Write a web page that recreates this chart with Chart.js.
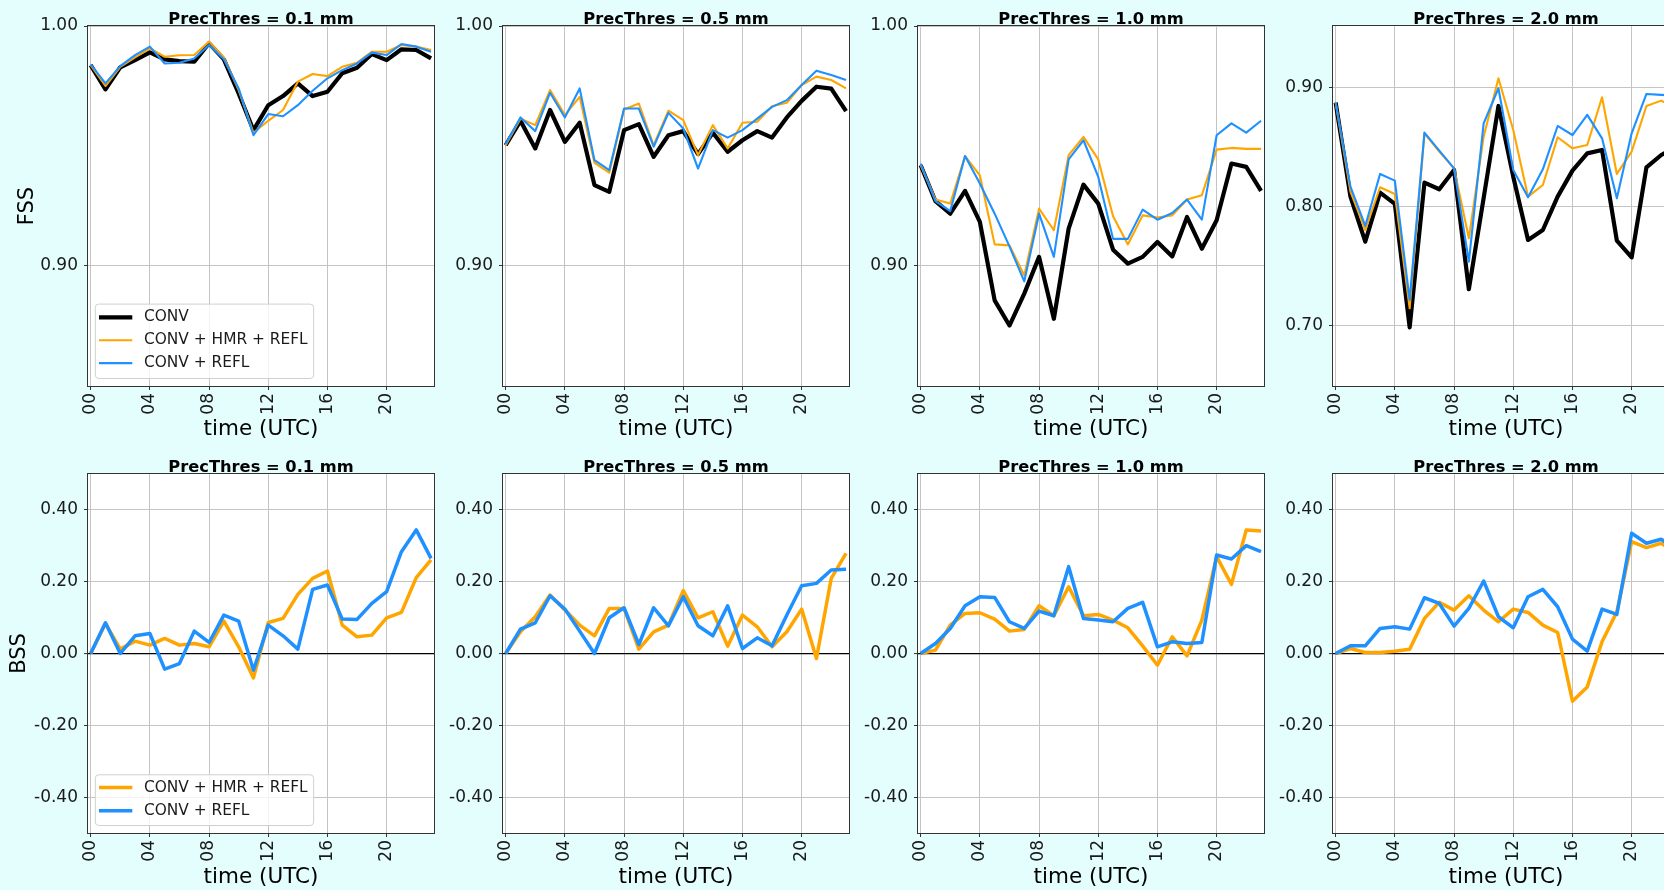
<!DOCTYPE html>
<html>
<head>
<meta charset="utf-8">
<title>FSS and BSS by precipitation threshold</title>
<script src="https://cdn.jsdelivr.net/npm/chart.js@4.4.1/dist/chart.umd.min.js"></script>
<style>
  html, body { margin: 0; padding: 0; width: 1664px; height: 890px; overflow: hidden; background: #e4fdfd; }
  canvas { position: absolute; }
</style>
</head>
<body>
<script>
// ---- data -------------------------------------------------------------
const hours = [0,1,2,3,4,5,6,7,8,9,10,11,12,13,14,15,16,17,18,19,20,21,22,23];
const hourTicks = [0, 4, 8, 12, 16, 20];
const thresholds = ['0.1', '0.5', '1.0', '2.0'];
const seriesNames = ['CONV', 'CONV + HMR + REFL', 'CONV + REFL'];

const fssTicksFine = [0.90, 1.00];
const fssTicksWide = [0.70, 0.80, 0.90];
const bssTicks = [-0.40, -0.20, 0.00, 0.20, 0.40];

// Fractions Skill Score
const fssConv01 = [0.9837,0.9736,0.9828,0.9858,0.9890,0.9861,0.9854,0.9851,0.9928,0.9861,0.9719,0.9566,0.9670,0.9708,0.9761,0.9708,0.9726,0.9803,0.9826,0.9883,0.9858,0.9903,0.9900,0.9865];
const fssHmr01  = [0.9837,0.9750,0.9830,0.9869,0.9907,0.9872,0.9878,0.9879,0.9935,0.9869,0.9733,0.9555,0.9605,0.9650,0.9768,0.9800,0.9791,0.9830,0.9847,0.9893,0.9893,0.9921,0.9914,0.9900];
const fssRefl01 = [0.9840,0.9761,0.9833,0.9879,0.9914,0.9844,0.9847,0.9865,0.9921,0.9861,0.9740,0.9545,0.9633,0.9624,0.9670,0.9730,0.9782,0.9816,0.9844,0.9889,0.9879,0.9925,0.9914,0.9893];

const fssConv05 = [0.9503,0.9605,0.9490,0.9650,0.9517,0.9597,0.9337,0.9309,0.9566,0.9591,0.9455,0.9545,0.9562,0.9466,0.9555,0.9476,0.9524,0.9562,0.9535,0.9619,0.9688,0.9747,0.9739,0.9645];
const fssHmr05  = [0.9503,0.9614,0.9587,0.9733,0.9629,0.9705,0.9430,0.9389,0.9652,0.9677,0.9503,0.9647,0.9608,0.9462,0.9587,0.9490,0.9597,0.9601,0.9666,0.9680,0.9754,0.9789,0.9775,0.9740];
const fssRefl05 = [0.9508,0.9619,0.9562,0.9722,0.9619,0.9740,0.9441,0.9399,0.9656,0.9656,0.9497,0.9638,0.9573,0.9406,0.9566,0.9535,0.9566,0.9614,0.9663,0.9691,0.9754,0.9814,0.9796,0.9775];

const fssConv10 = [0.9420,0.9270,0.9218,0.9313,0.9184,0.8857,0.8752,0.8885,0.9038,0.8780,0.9156,0.9339,0.9260,0.9068,0.9010,0.9038,0.9100,0.9040,0.9204,0.9072,0.9191,0.9427,0.9413,0.9313];
const fssHmr10  = [0.9420,0.9277,0.9260,0.9458,0.9378,0.9090,0.9086,0.8961,0.9239,0.9149,0.9462,0.9538,0.9444,0.9207,0.9090,0.9211,0.9202,0.9211,0.9277,0.9295,0.9485,0.9492,0.9488,0.9488];
const fssRefl10 = [0.9427,0.9270,0.9229,0.9458,0.9344,0.9218,0.9082,0.8936,0.9218,0.9038,0.9444,0.9524,0.9371,0.9113,0.9113,0.9235,0.9193,0.9221,0.9277,0.9193,0.9545,0.9594,0.9556,0.9605];

const fssConv20 = [0.8871,0.8081,0.7703,0.8115,0.8020,0.6983,0.8199,0.8143,0.8305,0.7303,0.8070,0.8843,0.8249,0.7717,0.7801,0.8081,0.8300,0.8445,0.8473,0.7711,0.7571,0.8328,0.8431,0.8500];
const fssHmr20  = [0.8871,0.8123,0.7801,0.8160,0.8104,0.7143,0.8613,0.8459,0.8319,0.7731,0.8585,0.9076,0.8641,0.8081,0.8179,0.8580,0.8487,0.8515,0.8916,0.8272,0.8459,0.8843,0.8888,0.8820];
const fssRefl20 = [0.8871,0.8165,0.7835,0.8272,0.8216,0.7213,0.8619,0.8468,0.8319,0.7535,0.8697,0.8992,0.8305,0.8076,0.8311,0.8675,0.8599,0.8768,0.8571,0.8067,0.8613,0.8944,0.8936,0.8930];

// Brier Skill Score
const bssHmr01  = [0,0.0837,0.0121,0.0344,0.0233,0.0419,0.0233,0.0279,0.0186,0.0902,0.0186,-0.0679,0.0865,0.0977,0.1647,0.2093,0.2298,0.0791,0.0465,0.0512,0.0995,0.1144,0.2112,0.2605];
const bssRefl01 = [0,0.0856,0,0.0493,0.0558,-0.0437,-0.0279,0.0623,0.0307,0.1070,0.0902,-0.0465,0.0791,0.0493,0.0121,0.1786,0.1907,0.0958,0.0949,0.1395,0.1721,0.2837,0.3442,0.2651];

const bssHmr05  = [0,0.0605,0.1023,0.1628,0.1209,0.0791,0.0493,0.1256,0.1256,0.0121,0.0605,0.0791,0.1749,0.0995,0.1163,0.0205,0.1070,0.0744,0.0186,0.0605,0.1237,-0.0140,0.2093,0.2790];
const bssRefl05 = [0,0.0679,0.0856,0.1609,0.1237,0.0623,0.0000,0.0995,0.1274,0.0251,0.1274,0.0772,0.1581,0.0772,0.0493,0.1330,0.0140,0.0437,0.0214,0.1070,0.1888,0.1953,0.2326,0.2344];

const bssHmr10  = [0,0.0093,0.0791,0.1116,0.1135,0.0958,0.0623,0.0670,0.1330,0.1051,0.1860,0.1051,0.1088,0.0930,0.0716,0.0214,-0.0326,0.0465,-0.0065,0.0930,0.2698,0.1926,0.3442,0.3414];
const bssRefl10 = [0,0.0279,0.0698,0.1330,0.1581,0.1563,0.0884,0.0698,0.1181,0.1051,0.2419,0.0977,0.0930,0.0884,0.1256,0.1423,0.0186,0.0326,0.0279,0.0307,0.2744,0.2633,0.3005,0.2837];

const bssHmr20  = [0,0.0140,0.0028,0.0028,0.0065,0.0121,0.0977,0.1423,0.1209,0.1609,0.1209,0.0884,0.1237,0.1144,0.0791,0.0586,-0.1330,-0.0930,0.0326,0.1160,0.3116,0.2949,0.3070,0.2800];
const bssRefl20 = [0,0.0214,0.0214,0.0698,0.0744,0.0679,0.1553,0.1395,0.0763,0.1256,0.2019,0.1023,0.0716,0.1581,0.1786,0.1302,0.0400,0.0065,0.1237,0.1088,0.3349,0.3070,0.3181,0.2900];

// ---- styling & layout ---------------------------------------------------
const FONT = "'DejaVu Sans', 'Liberation Sans', sans-serif";
const COLORS = { conv: '#000000', hmr: '#ffa500', refl: '#1e90ff' };
const GRID = '#c4c4c4';
const SPINE = '#333333';
const TEXT = '#1a1a1a';

const PLOT_W = 346;
const Y_AXIS_W = 88;
const X_AXIS_H = 60;
const TITLE_H = 26;
const COL_LEFT = [88, 503, 918, 1333];
const ROW = [
  { canvasTop: 0,   plotH: 360, xTitlePadBottom: 4,   yTitlePadTop: 14.6, legendRowGap: 22.9, legendTopPad: 13.2, legendBottomPad: 15.4 },
  { canvasTop: 448, plotH: 359, xTitlePadBottom: 2.4, yTitlePadTop: 7.3,  legendRowGap: 23.3, legendTopPad: 12.7, legendBottomPad: 14.7 }
];

// white axes face, dark frame and an in-plot legend box
const panelDecor = {
  id: 'panelDecor',
  beforeDraw(chart) {
    const { ctx, chartArea: a } = chart;
    ctx.save();
    ctx.fillStyle = '#ffffff';
    ctx.fillRect(a.left, a.top, a.right - a.left, a.bottom - a.top);
    ctx.restore();
  },
  afterDraw(chart, args, opts) {
    const { ctx, chartArea: a } = chart;
    ctx.save();
    ctx.strokeStyle = SPINE;
    ctx.lineWidth = 1;
    ctx.strokeRect(a.left - 0.5, a.top - 0.5, a.right - a.left + 1, a.bottom - a.top + 1);

    if (opts.legend) {
      const lg = opts.legend;
      const sets = chart.data.datasets;
      ctx.font = '15.4px ' + FONT;
      let maxW = 0;
      sets.forEach(d => { maxW = Math.max(maxW, ctx.measureText(d.label).width); });
      const boxLeft = a.left + 7.3;
      const textX = a.left + 56;
      const boxRight = textX + maxW + 6;
      const boxBottom = a.bottom - 7.5;
      const lastY = boxBottom - lg.bottomPad;
      const firstY = lastY - lg.rowGap * (sets.length - 1);
      const boxTop = firstY - lg.topPad;
      const r = 3.5;
      ctx.beginPath();
      ctx.moveTo(boxLeft + r, boxTop);
      ctx.arcTo(boxRight, boxTop, boxRight, boxBottom, r);
      ctx.arcTo(boxRight, boxBottom, boxLeft, boxBottom, r);
      ctx.arcTo(boxLeft, boxBottom, boxLeft, boxTop, r);
      ctx.arcTo(boxLeft, boxTop, boxRight, boxTop, r);
      ctx.closePath();
      ctx.fillStyle = 'rgba(255,255,255,0.8)';
      ctx.fill();
      ctx.strokeStyle = '#d0d0d0';
      ctx.lineWidth = 1;
      ctx.stroke();

      sets.forEach((d, i) => {
        const y = firstY + i * lg.rowGap;
        ctx.beginPath();
        ctx.moveTo(a.left + 11, y);
        ctx.lineTo(a.left + 44.3, y);
        ctx.strokeStyle = d.borderColor;
        ctx.lineWidth = d.borderWidth;
        ctx.lineCap = 'butt';
        ctx.stroke();
        ctx.fillStyle = TEXT;
        ctx.textAlign = 'left';
        ctx.textBaseline = 'middle';
        ctx.fillText(d.label, textX, y);
      });
    }
    ctx.restore();
  }
};

function makePanel(opts) {
  const row = ROW[opts.row];
  const left = COL_LEFT[opts.col];
  const canvas = document.createElement('canvas');
  const w = PLOT_W + 2 * Y_AXIS_W;
  const h = TITLE_H + row.plotH + X_AXIS_H;
  canvas.width = w;
  canvas.height = h;
  canvas.style.left = (left - Y_AXIS_W) + 'px';
  canvas.style.top = row.canvasTop + 'px';
  canvas.style.width = w + 'px';
  canvas.style.height = h + 'px';
  document.body.appendChild(canvas);

  const isBss = opts.metric === 'BSS';
  const datasets = opts.series.map(s => ({
    label: s.label,
    data: hours.map((hr, i) => ({ x: hr, y: s.values[i] })),
    borderColor: s.color,
    backgroundColor: s.color,
    borderWidth: s.width,
    order: s.order,
    pointRadius: 0,
    pointHoverRadius: 0,
    tension: 0,
    fill: false,
    borderJoinStyle: 'round',
    clip: 0
  }));

  return new Chart(canvas, {
    type: 'line',
    data: { datasets },
    options: {
      responsive: false,
      animation: false,
      devicePixelRatio: 1,
      events: [],
      layout: { padding: 0 },
      plugins: {
        legend: { display: false },
        tooltip: { enabled: false },
        title: {
          display: true,
          text: 'PrecThres = ' + opts.threshold + ' mm',
          color: '#000000',
          font: { family: FONT, size: 16.3, weight: 'bold', lineHeight: 0.7 },
          padding: { top: 13.8, bottom: 0.79 }
        },
        panelDecor: {
          legend: opts.legend ? { rowGap: row.legendRowGap, topPad: row.legendTopPad, bottomPad: row.legendBottomPad } : null
        }
      },
      scales: {
        x: {
          type: 'linear',
          min: -0.18,
          max: 23.2,
          afterBuildTicks: axis => { axis.ticks = hourTicks.map(v => ({ value: v })); },
          afterFit: axis => { axis.height = X_AXIS_H; },
          border: { display: false },
          grid: { color: GRID, lineWidth: 1, drawTicks: true, tickLength: 4, tickColor: SPINE, tickWidth: 1 },
          ticks: {
            autoSkip: false,
            minRotation: 90,
            maxRotation: 90,
            padding: 3,
            color: TEXT,
            font: { family: FONT, size: 17 },
            callback: v => String(v).padStart(2, '0')
          },
          title: {
            display: true,
            text: 'time (UTC)',
            color: '#000000',
            font: { family: FONT, size: 21.5, lineHeight: 1.2 },
            padding: { top: 0, bottom: row.xTitlePadBottom }
          }
        },
        y: {
          type: 'linear',
          position: 'left',
          min: opts.yMin,
          max: opts.yMax,
          afterBuildTicks: axis => { axis.ticks = opts.yTicks.map(v => ({ value: v })); },
          afterFit: axis => { axis.width = Y_AXIS_W; },
          border: { display: false },
          grid: {
            color: ctx => (isBss && ctx.tick && ctx.tick.value === 0) ? '#000000' : GRID,
            lineWidth: ctx => (isBss && ctx.tick && ctx.tick.value === 0) ? 1.2 : 1,
            drawTicks: true, tickLength: 4, tickColor: SPINE, tickWidth: 1
          },
          ticks: {
            padding: 6,
            color: TEXT,
            font: { family: FONT, size: 17 },
            callback: v => Number(v).toFixed(2)
          },
          title: {
            display: opts.col === 0,
            text: opts.metric,
            color: '#000000',
            font: { family: FONT, size: 21, lineHeight: 1.2 },
            padding: { top: row.yTitlePadTop, bottom: 0 }
          }
        },
        // empty right-hand band so the panel title is centred over the plot
        yPad: {
          type: 'linear',
          position: 'right',
          min: 0,
          max: 1,
          afterFit: axis => { axis.width = Y_AXIS_W; },
          border: { display: false },
          grid: { display: false, drawTicks: false },
          ticks: { display: false }
        }
      }
    },
    plugins: [panelDecor]
  });
}

// ---- panels ---------------------------------------------------------------
const fssByThreshold = [
  [fssConv01, fssHmr01, fssRefl01],
  [fssConv05, fssHmr05, fssRefl05],
  [fssConv10, fssHmr10, fssRefl10],
  [fssConv20, fssHmr20, fssRefl20]
];
const bssByThreshold = [
  [bssHmr01, bssRefl01],
  [bssHmr05, bssRefl05],
  [bssHmr10, bssRefl10],
  [bssHmr20, bssRefl20]
];

thresholds.forEach((thr, col) => {
  const [conv, hmr, refl] = fssByThreshold[col];
  const wide = col === 3;
  makePanel({
    row: 0, col, threshold: thr, metric: 'FSS',
    yMin: wide ? 0.649 : 0.85,
    yMax: wide ? 0.9515 : 1.0,
    yTicks: wide ? fssTicksWide : fssTicksFine,
    legend: col === 0,
    series: [
      { label: seriesNames[0], values: conv, color: COLORS.conv, width: 4.2, order: 2 },
      { label: seriesNames[1], values: hmr,  color: COLORS.hmr,  width: 2.1, order: 1 },
      { label: seriesNames[2], values: refl, color: COLORS.refl, width: 2.1, order: 0 }
    ]
  });
});

thresholds.forEach((thr, col) => {
  const [hmr, refl] = bssByThreshold[col];
  makePanel({
    row: 1, col, threshold: thr, metric: 'BSS',
    yMin: -0.5, yMax: 0.5,
    yTicks: bssTicks,
    legend: col === 0,
    series: [
      { label: seriesNames[1], values: hmr,  color: COLORS.hmr,  width: 3.5, order: 1 },
      { label: seriesNames[2], values: refl, color: COLORS.refl, width: 3.5, order: 0 }
    ]
  });
});
</script>
</body>
</html>
